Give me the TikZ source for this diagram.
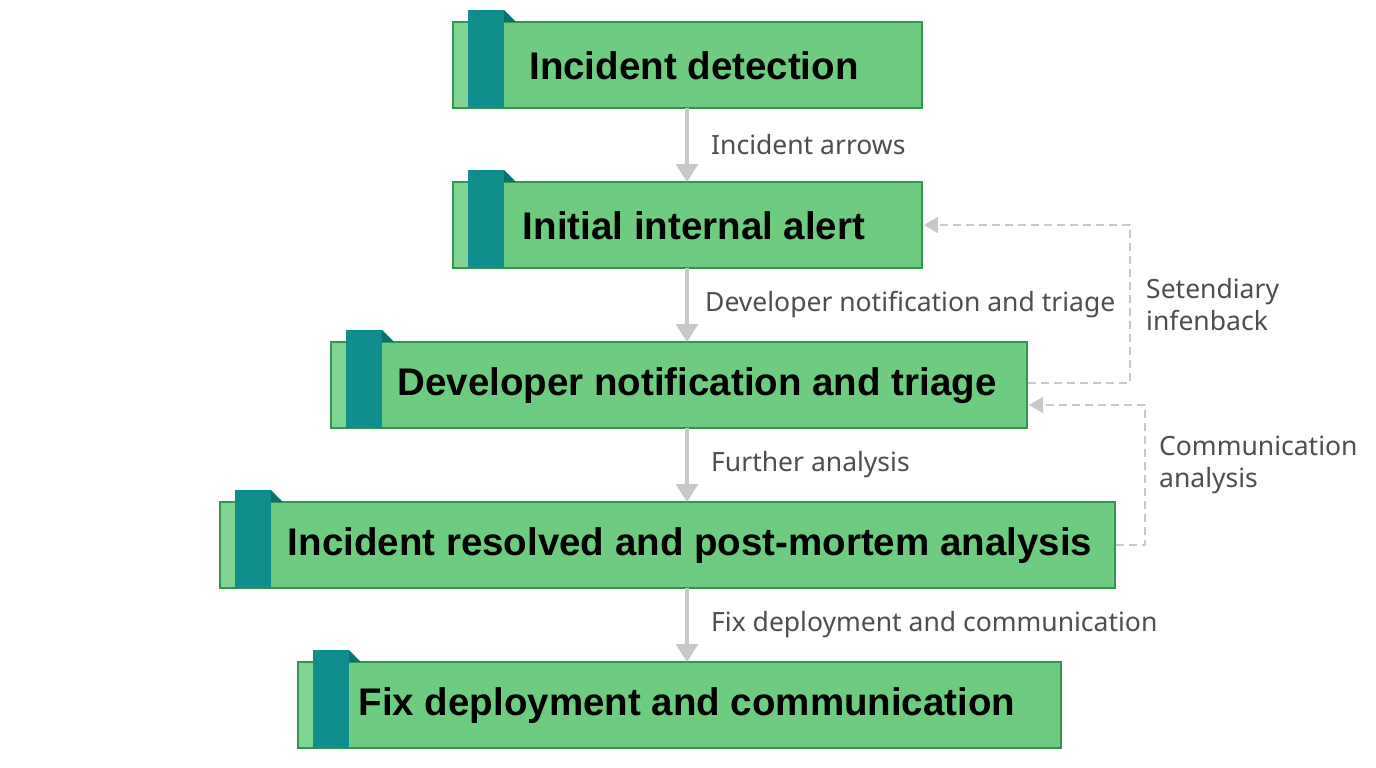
\documentclass[tikz,border=0pt]{standalone}
\usepackage{fontspec}
\setmainfont{Noto Sans}
\newfontfamily\titlefont{Liberation Sans}
\usetikzlibrary{arrows.meta}
\definecolor{boxgreen}{RGB}{110,204,128}
\definecolor{boxedge}{RGB}{52,150,78}
\definecolor{stripgreen}{RGB}{128,212,146}
\definecolor{tabteal}{RGB}{16,142,142}
\definecolor{folddark}{RGB}{10,112,112}
\definecolor{arrowgray}{RGB}{200,200,200}
\definecolor{labelgray}{RGB}{78,78,78}
\tikzset{
  x=1pt,y=-1pt,
  flow/.style={draw=arrowgray,line width=4pt,-{Triangle[length=18pt,width=22pt]}},
  fb/.style={draw=arrowgray,line width=2pt,dash pattern=on 8pt off 5pt},
  fbarrow/.style={fb,-{Triangle[length=14pt,width=16pt]}},
  lbl/.style={font=\fontsize{26.5}{32}\selectfont,text=labelgray,anchor=west,inner sep=0pt,align=left},
  title/.style={font=\titlefont\fontsize{38.5}{42}\selectfont\bfseries,text=black,inner sep=0pt}
}
\newcommand{\stepbox}[5]{% name, x1, y1, x2, y2
  \fill[stripgreen] (#2,#3) rectangle (#2+15,#5);
  \fill[boxgreen] (#2+15,#3) rectangle (#4,#5);
  \draw[boxedge,line width=1.5pt] (#2,#3) rectangle (#4,#5);
  \fill[tabteal] (#2+15,#3-12) rectangle (#2+51,#5);
  \fill[folddark] (#2+51,#3-12) -- (#2+63,#3) -- (#2+51,#3) -- cycle;
  \node[minimum width={#4-#2},minimum height={#5-#3},inner sep=0pt] (#1) at ({(#2+#4)/2},{(#3+#5)/2}) {};
}
\begin{document}
\begin{tikzpicture}
\useasboundingbox (0,0) rectangle (1376,768);
\fill[white] (0,0) rectangle (1376,768);
\stepbox{b1}{453}{22}{922}{108}
\stepbox{b2}{453}{182}{922}{268}
\stepbox{b3}{331}{342}{1027}{428}
\stepbox{b4}{220}{502}{1115}{588}
\stepbox{b5}{298}{662}{1061}{748}
\node[title] (t1) at (694,66) {Incident detection};
\node[title] (t2) at (694,226) {Initial internal alert};
\node[title] (t3) at (697,386) {Developer notification and triage};
\node[title] (t4) at (690,546) {Incident resolved and post-mortem analysis};
\node[title] (t5) at (687,706) {Fix deployment and communication};
% main flow
\coordinate (a1s) at (687,108); \coordinate (a1e) at (687,182);
\coordinate (a2s) at (687,268); \coordinate (a2e) at (687,342);
\coordinate (a3s) at (687,428); \coordinate (a3e) at (687,502);
\coordinate (a4s) at (687,588); \coordinate (a4e) at (687,662);
\draw[flow] (a1s) -- (a1e);
\draw[flow] (a2s) -- (a2e);
\draw[flow] (a3s) -- (a3e);
\draw[flow] (a4s) -- (a4e);
\node[lbl] (l1) at (711,145) {Incident arrows};
\node[lbl] (l2) at (705,305) {Developer notification and triage};
\node[lbl] (l3) at (711,465) {Further analysis};
\node[lbl] (l4) at (711,625) {Fix deployment and communication};
% feedback loops
\coordinate (f1s) at (1028,383);
\coordinate (f1e) at (924,225);
\draw[fbarrow] (f1s) -- (1130,383) -- (1130,225) -- (f1e);
\coordinate (f2s) at (1116,545);
\coordinate (f2e) at (1029,405);
\draw[fbarrow] (f2s) -- (1145,545) -- (1145,405) -- (f2e);
\node[lbl] (l5) at (1146,305) {Setendiary\\infenback};
\node[lbl] (l6) at (1159,465) {Communication\\analysis};
\end{tikzpicture}
\end{document}
